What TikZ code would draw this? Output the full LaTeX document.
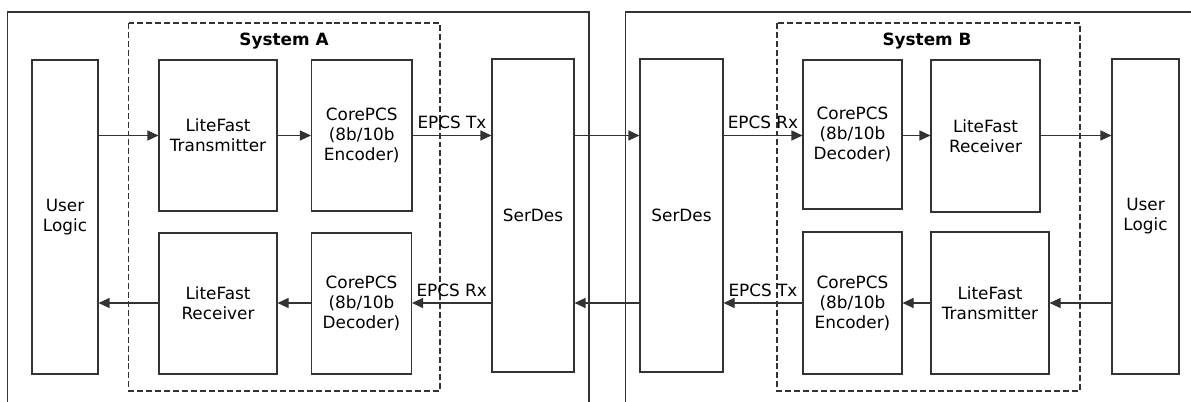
\documentclass[tikz,border=0pt]{standalone}
\usepackage{fontspec}
\setmainfont{DejaVu Sans}
\usepackage{tikz}
\usetikzlibrary{arrows.meta,positioning,calc}

\tikzset{
  bx/.style 2 args={draw=black!80, line width=0.6pt, align=center, inner sep=0pt,
    minimum width=#1*0.02cm, minimum height=#2*0.02cm},
  sysbox/.style={draw=black!80, line width=0.6pt, dash pattern=on 3.4pt off 1.7pt},
  frame/.style={draw=black!80, line width=0.6pt},
  link/.style={draw=black!80, line width=0.6pt, -{Triangle[length=0.22cm,width=0.2cm]}},
}

\begin{document}
\begin{tikzpicture}[x=0.02cm, y=-0.02cm, font=\fontsize{9.6}{11.4}\selectfont]
		\useasboundingbox (0,0) rectangle (1191,402);

		% outer frames, open at the bottom
		\draw[frame] (7.7,402) -- (7.7,12) -- (589,12) -- (589,402);
		\draw[frame] (625.5,402) -- (625.5,12) -- (1191,12);

		% system boundaries
		\draw[sysbox] (128.6,23) rectangle (440,391);
		\draw[sysbox] (777,23) rectangle (1080,391);
		\node (titleA) at (284,41) {\textbf{System A}};
		\node (titleB) at (927,41) {\textbf{System B}};

		% side A
		\node[bx={66}{314}] (ulA) at (65,217) {User\\Logic};
		\node[bx={118}{151}] (ltA) at (218,135.5) {LiteFast\\Transmitter};
		\node[bx={100.5}{151}] (encA) at (361.75,135.5) {CorePCS\\(8b/10b\\Encoder)};
		\node[bx={118}{141}] (lrA) at (218,303.5) {LiteFast\\Receiver};
		\node[bx={100}{141}] (decA) at (361.5,303.5) {CorePCS\\(8b/10b\\Decoder)};
		\node[bx={82}{313}] (sdA) at (533,215.5) {SerDes};

		% side B
		\node[bx={83}{313}] (sdB) at (681.5,215.5) {SerDes};
		\node[bx={99}{149}] (decB) at (852.5,134.5) {CorePCS\\(8b/10b\\Decoder)};
		\node[bx={109}{152}] (lrB) at (985.5,136) {LiteFast\\Receiver};
		\node[bx={99}{142}] (encB) at (852.5,303) {CorePCS\\(8b/10b\\Encoder)};
		\node[bx={118}{142}] (ltB) at (990,303) {LiteFast\\Transmitter};
		\node[bx={67}{315}] (ulB) at (1145.5,216.5) {User\\Logic};

		% transmit path A -> B
		\draw[link] (ulA.east |- ltA.west) -- (ltA.west);
		\draw[link] (ltA.east) -- (encA.west);
		\draw[link] (encA.east) -- (encA.east -| sdA.west) node[midway,above] {EPCS Tx};
		\draw[link] (sdA.east |- encA.east) -- (sdB.west |- encA.east);
		\draw[link] (sdB.east |- encA.east) -- (decB.west |- encA.east) node[midway,above] {EPCS Rx};
		\draw[link] (decB.east |- encA.east) -- (lrB.west |- encA.east);
		\draw[link] (lrB.east |- encA.east) -- (ulB.west |- encA.east);

		% transmit path B -> A
		\draw[link] (ulB.west |- ltB.east) -- (ltB.east);
		\draw[link] (ltB.west) -- (encB.east);
		\draw[link] (encB.west) -- (encB.west -| sdB.east) node[midway,above] {EPCS Tx};
		\draw[link] (sdB.west |- encB.west) -- (sdA.east |- encB.west);
		\draw[link] (sdA.west |- encB.west) -- (decA.east |- encB.west) node[midway,above] {EPCS Rx};
		\draw[link] (decA.west |- encB.west) -- (lrA.east |- encB.west);
		\draw[link] (lrA.west |- encB.west) -- (ulA.east |- encB.west);
	\end{tikzpicture}
\end{document}
